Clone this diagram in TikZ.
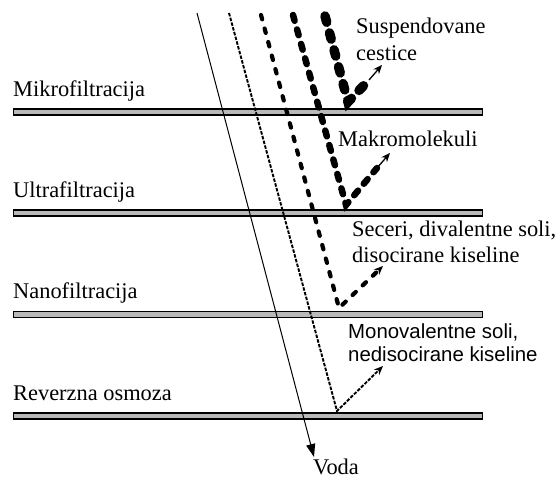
\documentclass[tikz,border=0pt]{standalone}
\usepackage{fontspec}
\setmainfont{Liberation Serif}
\setsansfont{Liberation Sans}
\usetikzlibrary{arrows.meta}
\begin{document}
\begin{tikzpicture}[x=1pt,y=-1pt,
  membrane/.style={draw=black,line width=1.3pt,fill=gray!55,minimum width=469pt,minimum height=5.8pt,inner sep=0pt,outer sep=0pt},
  lbl/.style={anchor=base west,inner sep=0pt,font=\fontsize{22.4}{26}\selectfont},
  slbl/.style={anchor=base west,inner sep=0pt,font=\sffamily\fontsize{20.4}{23}\selectfont},
  water/.style={line width=1pt,-{Triangle[length=13pt,width=9pt]}},
  fine/.style={line width=1.9pt,dash pattern=on 3.5pt off 1.4pt},
  medium/.style={line width=4.2pt,line cap=round,dash pattern=on 4.5pt off 9.5pt},
  thick/.style={line width=6.5pt,line cap=round,dash pattern=on 6pt off 9pt},
  thickest/.style={line width=9.5pt,line cap=round,dash pattern=on 6.5pt off 11pt},
  tip/.style={-{Stealth[length=9pt,width=7.5pt]}},
  thinarrow/.style={line width=1.3pt,-{Stealth[length=9pt,width=7.5pt]}}
]
\useasboundingbox (0,0) rectangle (560,478);

% membranes
\node[membrane] (m1) at (248,112) {};
\node[membrane] (m2) at (248,213) {};
\node[membrane] (m3) at (248,314.5) {};
\node[membrane] (m4) at (248,416) {};

% labels
\node[lbl] (lmikro) at (13,97) {Mikrofiltracija};
\node[lbl] (lultra) at (13,198) {Ultrafiltracija};
\node[lbl] (lnano) at (13,299) {Nanofiltracija};
\node[lbl] (lro) at (13,401) {Reverzna osmoza};
\node[lbl] (lsusp) at (356,34) {Suspendovane};
\node[lbl] (lcest) at (356,61) {cestice};
\node[lbl] (lmakro) at (338,147) {Makromolekuli};
\node[lbl] (lsec1) at (352,237) {Seceri, divalentne soli,};
\node[lbl] (lsec2) at (352,263) {disocirane kiseline};
\node[slbl] (lmono1) at (348,339) {Monovalentne soli,};
\node[slbl] (lmono2) at (348,362) {nedisocirane kiseline};
\node[lbl] (lvoda) at (313,474) {Voda};

% coordinates
\coordinate (w0) at (197,13);
\coordinate (w1) at (314,457);
\coordinate (a0) at (229,13);
\coordinate (av) at (337,411);
\coordinate (at) at (383,366);
\coordinate (b0) at (261,15);
\coordinate (bv) at (339,308);
\coordinate (bt) at (383,266);
\coordinate (c0) at (293,15);
\coordinate (cv) at (346,205);
\coordinate (cm) at (377,168);
\coordinate (ct) at (390,153);
\coordinate (d0) at (325,16);
\coordinate (dv) at (348,102);
\coordinate (dm) at (369,80);
\coordinate (dt) at (382,65);

% water
\draw[water] (w0) -- (w1);
% monovalent
\draw[fine,tip] (a0) -- (av) -- (at);
% sugars
\draw[medium,tip] (b0) -- (bv) -- (bt);
% macromolecules
\draw[thick] (c0) -- (cv) -- (cm);
\draw[thinarrow] (cm) -- (ct);
% suspended
\draw[thickest] (d0) -- (dv) -- (dm);
\draw[thinarrow] (dm) -- (dt);
\end{tikzpicture}
\end{document}
